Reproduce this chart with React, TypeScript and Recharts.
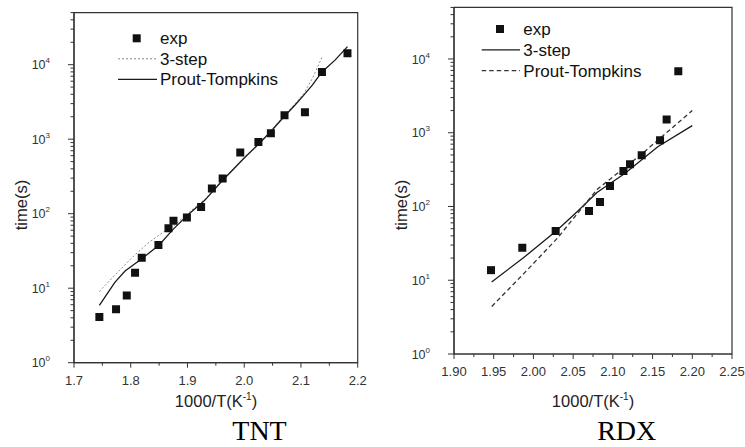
import React from 'react';
import { ComposedChart, Line, Scatter, XAxis, YAxis, Legend, Label, ReferenceArea } from 'recharts';

// ---------- TNT data ----------
const tntExpX = [1.7447, 1.7741, 1.793, 1.8076, 1.8194, 1.8488, 1.8665, 1.8753, 1.899, 1.924, 1.943, 1.962, 1.993, 2.025, 2.047, 2.071, 2.107, 2.137, 2.182];
const tntExpY = [4.1, 5.2, 8.0, 16.1, 25.7, 38, 63.7, 80.5, 89, 123, 218, 297, 663, 920, 1200, 2100, 2300, 8000, 14200];
const tnt3StepX = [1.7447, 1.77, 1.805, 1.83, 1.858, 1.875, 1.9, 1.93, 1.96, 2.0, 2.03, 2.05, 2.07, 2.09, 2.105, 2.12, 2.137];
const tnt3StepY = [9, 14.5, 27, 40, 57, 68, 100, 155, 275, 570, 940, 1380, 2050, 3000, 4100, 6500, 12500];
const tntPTX = [1.7447, 1.772, 1.79, 1.82, 1.85, 1.875, 1.9, 1.93, 1.96, 2.0, 2.03, 2.05, 2.07, 2.09, 2.105, 2.12, 2.137, 2.16, 2.182];
const tntPTY = [5.9, 12, 17, 25, 38, 62, 95, 150, 270, 560, 930, 1350, 2000, 2900, 3900, 5300, 8000, 11500, 17500];

// ---------- RDX data ----------
const rdxExpX = [1.9466, 1.986, 2.028, 2.07, 2.0838, 2.0964, 2.1133, 2.1216, 2.1363, 2.1594, 2.1677, 2.1824];
const rdxExpY = [13.7, 27.6, 46.4, 86.6, 115, 189, 302, 375, 497, 794, 1510, 6840];
const rdx3StepX = [1.9474, 1.987, 2.029, 2.055, 2.08, 2.115, 2.157, 2.2];
const rdx3StepY = [9.5, 20, 47, 85, 155, 280, 650, 1250];
const rdxPTX = [1.9475, 1.99, 2.03, 2.08, 2.135, 2.2];
const rdxPTY = [4.4, 13, 37, 170, 500, 2000];

// ---------- axes ----------
const tntXMajor = [1.7, 1.8, 1.9, 2.0, 2.1, 2.2];
const tntXTicks = [1.7, 1.75, 1.8, 1.85, 1.9, 1.95, 2.0, 2.05, 2.1, 2.15, 2.2];
const rdxXMajor = [1.9, 1.95, 2.0, 2.05, 2.1, 2.15, 2.2, 2.25];
const rdxXTicks = [1.9, 1.925, 1.95, 1.975, 2.0, 2.025, 2.05, 2.075, 2.1, 2.125, 2.15, 2.175, 2.2, 2.225, 2.25];
const yDomain = [1, 50000];
const yDecades = [1, 10, 100, 1000, 10000];
const yMantissas = [1, 2, 3, 4, 5, 6, 7, 8, 9];
const yTicks = yDecades.flatMap((d) => yMantissas.map((m) => m * d)).filter((v) => v <= 50000);

const legendNames = ['exp', '3-step', 'Prout-Tompkins'];

const zip = (xs: number[], ys: number[]) => xs.map((x, i) => ({ x, y: ys[i] }));

const SANS = '"Liberation Sans", Arial, Helvetica, sans-serif';
const SERIF = '"Liberation Serif", "Times New Roman", serif';

const XTick = (props: any) => {
  const { x, y, payload, majors, decimals } = props;
  const v = payload.value;
  const major = majors.some((m: number) => Math.abs(m - v) < 1e-9);
  return (
    <g>
      <line x1={x} x2={x} y1={y} y2={y + (major ? 5 : 3)} stroke="#333" strokeWidth={1} />
      {major && (
        <text x={x} y={y + 22} textAnchor="middle" fontSize={13} fill="#333" fontFamily={SANS}>
          {v.toFixed(decimals)}
        </text>
      )}
    </g>
  );
};

const YTick = (props: any) => {
  const { x, y, payload } = props;
  const v = payload.value;
  const e = Math.log10(v);
  const major = Math.abs(e - Math.round(e)) < 1e-6;
  return (
    <g>
      <line x1={x} x2={x - (major ? 6 : 3.5)} y1={y} y2={y} stroke="#333" strokeWidth={1} />
      {major && (
        <text x={x - 24} y={y + 4.6} textAnchor="end" fontSize={12.5} fill="#333" fontFamily={SANS}>
          10
          <tspan dy={-6} fontSize={8}>
            {Math.round(e)}
          </tspan>
        </text>
      )}
    </g>
  );
};

type LegendItem = { name: string; kind: string; stroke?: string; width?: number; dash?: string };

const makeLegend = (items: LegendItem[], cfg: any) => () => (
  <svg width={cfg.w} height={cfg.h} style={{ display: 'block', overflow: 'visible' }}>
    {items.map((it, i) => {
      const cy = cfg.y0 + i * cfg.dy;
      return (
        <g key={it.name}>
          {it.kind === 'square' ? (
            <rect x={cfg.symCx - 4} y={cy - 4} width={8} height={8} fill="#111" />
          ) : (
            <line x1={cfg.lx1} x2={cfg.lx2} y1={cy} y2={cy} stroke={it.stroke} strokeWidth={it.width} strokeDasharray={it.dash} />
          )}
          <text x={cfg.tx} y={cy + 6} fontSize={17} fill="#111" fontFamily={SANS}>
            {it.name}
          </text>
        </g>
      );
    })}
  </svg>
);

const xTitle = (cx: number, caption: string, capX: number) => () => (
  <g>
    <text x={cx} y={407} textAnchor="middle" fontSize={16.5} fill="#222" fontFamily={SANS}>
      1000/T(K
      <tspan dy={-7} fontSize={10}>
        -1
      </tspan>
      <tspan dy={7}>)</tspan>
    </text>
    <text x={capX} y={440} textAnchor="middle" fontSize={28} fill="#000" fontFamily={SERIF}>
      {caption}
    </text>
  </g>
);

const yTitle = (bx: number) => () => (
  <text x={bx} y={205} transform={`rotate(-90 ${bx} 205)`} textAnchor="middle" fontSize={16.5} fill="#222" fontFamily={SANS}>
    time(s)
  </text>
);

const TNT_STYLE = {
  threeStep: { stroke: '#8a8a8a', width: 1, dash: '2 2' },
  pt: { stroke: '#1a1a1a', width: 1.3, dash: undefined as any },
};
const RDX_STYLE = {
  threeStep: { stroke: '#1a1a1a', width: 1.3, dash: undefined as any },
  pt: { stroke: '#333', width: 1.3, dash: '4.5 3' },
};

export default function App() {
  const tntLegend = makeLegend(
    [
      { name: legendNames[0], kind: 'square' },
      { name: legendNames[1], kind: 'line', ...TNT_STYLE.threeStep },
      { name: legendNames[2], kind: 'line', ...TNT_STYLE.pt },
    ],
    { w: 372, h: 100, y0: 38.3, dy: 20.5, symCx: 136.7, lx1: 118, lx2: 157, tx: 160 }
  );
  const rdxLegend = makeLegend(
    [
      { name: legendNames[0], kind: 'square' },
      { name: legendNames[1], kind: 'line', ...RDX_STYLE.threeStep },
      { name: legendNames[2], kind: 'line', ...RDX_STYLE.pt },
    ],
    { w: 365, h: 100, y0: 29, dy: 20.8, symCx: 120, lx1: 101.7, lx2: 140, tx: 143.3 }
  );

  return (
    <div style={{ position: 'absolute', left: 0, top: 0, width: 745, height: 447, background: '#fff', overflow: 'hidden' }}>
      <div style={{ position: 'absolute', left: 0, top: 0 }}>
        <ComposedChart width={372} height={447} margin={{ top: 12.6, right: 14.3, bottom: 0, left: 0 }}>
          <XAxis
            type="number"
            dataKey="x"
            domain={[1.7, 2.2]}
            ticks={tntXTicks}
            interval={0}
            tickSize={0}
            tickMargin={0}
            tickLine={false}
            height={84.3}
            axisLine={{ stroke: '#333', strokeWidth: 1.2 }}
            tick={<XTick majors={tntXMajor} decimals={1} />}
            allowDataOverflow
          >
            <Label content={xTitle(216, 'TNT', 259.5)} />
          </XAxis>
          <YAxis
            type="number"
            dataKey="y"
            scale="log"
            domain={yDomain}
            ticks={yTicks}
            interval={0}
            tickSize={0}
            tickMargin={0}
            tickLine={false}
            width={74}
            axisLine={{ stroke: '#333', strokeWidth: 1.2 }}
            tick={<YTick />}
            allowDataOverflow
          >
            <Label content={yTitle(27)} />
          </YAxis>
          <ReferenceArea x1={1.7} x2={2.2} y1={1} y2={50000} fill="none" stroke="#333" strokeWidth={1.2} />
          <Line
            data={zip(tnt3StepX, tnt3StepY)}
            dataKey="y"
            type="linear"
            stroke={TNT_STYLE.threeStep.stroke}
            strokeWidth={TNT_STYLE.threeStep.width}
            strokeDasharray={TNT_STYLE.threeStep.dash}
            dot={false}
            activeDot={false}
            isAnimationActive={false}
            name={legendNames[1]}
          />
          <Line
            data={zip(tntPTX, tntPTY)}
            dataKey="y"
            type="linear"
            stroke={TNT_STYLE.pt.stroke}
            strokeWidth={TNT_STYLE.pt.width}
            dot={false}
            activeDot={false}
            isAnimationActive={false}
            name={legendNames[2]}
          />
          <Scatter data={zip(tntExpX, tntExpY)} dataKey="y" fill="#111" shape="square" isAnimationActive={false} name={legendNames[0]} />
          <Legend
            layout="vertical"
            align="center"
            verticalAlign="middle"
            content={tntLegend}
            wrapperStyle={{ position: 'absolute', left: 0, top: 0, width: 372, height: 100, margin: 0 }}
          />
        </ComposedChart>
      </div>

      <div style={{ position: 'absolute', left: 380, top: 0 }}>
        <ComposedChart width={365} height={447} margin={{ top: 7.45, right: 13, bottom: 0, left: 0 }}>
          <XAxis
            type="number"
            dataKey="x"
            domain={[1.9, 2.25]}
            ticks={rdxXTicks}
            interval={0}
            tickSize={0}
            tickMargin={0}
            tickLine={false}
            height={93}
            axisLine={{ stroke: '#333', strokeWidth: 1.2 }}
            tick={<XTick majors={rdxXMajor} decimals={2} />}
            allowDataOverflow
          >
            <Label content={xTitle(213, 'RDX', 246.7)} />
          </XAxis>
          <YAxis
            type="number"
            dataKey="y"
            scale="log"
            domain={yDomain}
            ticks={yTicks}
            interval={0}
            tickSize={0}
            tickMargin={0}
            tickLine={false}
            width={74}
            axisLine={{ stroke: '#333', strokeWidth: 1.2 }}
            tick={<YTick />}
            allowDataOverflow
          >
            <Label content={yTitle(26.5)} />
          </YAxis>
          <ReferenceArea x1={1.9} x2={2.25} y1={1} y2={50000} fill="none" stroke="#333" strokeWidth={1.2} />
          <Line
            data={zip(rdx3StepX, rdx3StepY)}
            dataKey="y"
            type="linear"
            stroke={RDX_STYLE.threeStep.stroke}
            strokeWidth={RDX_STYLE.threeStep.width}
            dot={false}
            activeDot={false}
            isAnimationActive={false}
            name={legendNames[1]}
          />
          <Line
            data={zip(rdxPTX, rdxPTY)}
            dataKey="y"
            type="linear"
            stroke={RDX_STYLE.pt.stroke}
            strokeWidth={RDX_STYLE.pt.width}
            strokeDasharray={RDX_STYLE.pt.dash}
            dot={false}
            activeDot={false}
            isAnimationActive={false}
            name={legendNames[2]}
          />
          <Scatter data={zip(rdxExpX, rdxExpY)} dataKey="y" fill="#111" shape="square" isAnimationActive={false} name={legendNames[0]} />
          <Legend
            layout="vertical"
            align="center"
            verticalAlign="middle"
            content={rdxLegend}
            wrapperStyle={{ position: 'absolute', left: 0, top: 0, width: 365, height: 100, margin: 0 }}
          />
        </ComposedChart>
      </div>
    </div>
  );
}
